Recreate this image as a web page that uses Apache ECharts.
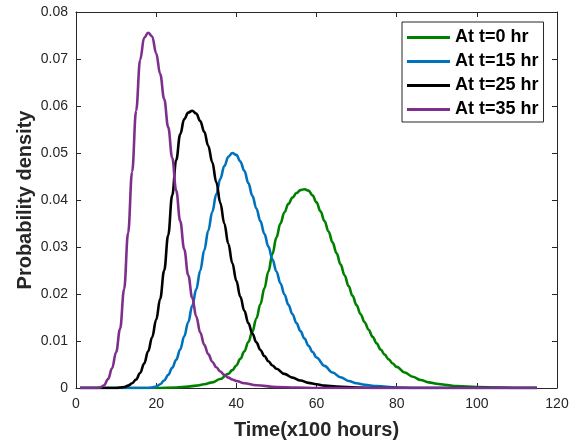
<!DOCTYPE html>
<html>
<head>
<meta charset="utf-8">
<script src="https://cdn.jsdelivr.net/npm/echarts@6/dist/echarts.min.js"></script>
<style>
  html, body { margin: 0; padding: 0; background: #fff; }
  #chart { width: 573px; height: 446px; }
</style>
</head>
<body>
<div id="chart"></div>
<script>
// Time axis in units of 100 hours
const xTicks = [0, 20, 40, 60, 80, 100, 120];
const yTicks = [0, 0.01, 0.02, 0.03, 0.04, 0.05, 0.06, 0.07, 0.08];

const seriesNames = ['At t=0 hr', 'At t=15 hr', 'At t=25 hr', 'At t=35 hr'];

// t = 0 hr
const time0 = [1, 20, 25, 28, 30, 32, 34, 36, 38, 39, 40, 41, 42, 43, 44, 45, 46, 47, 48, 49, 50,
  51, 52, 53, 54, 55, 56, 57, 58, 59, 60, 61, 62, 63, 64, 65, 66, 67, 68, 69, 70,
  71, 72, 73, 74, 75, 76, 77, 78, 79, 80, 82, 84, 86, 88, 90, 92, 95, 100, 105, 110, 115];
const pdf0 = [0, 0, 0.0001, 0.0003, 0.0005, 0.0008, 0.0012, 0.0019, 0.003, 0.0038, 0.0048, 0.0062, 0.0078, 0.0098, 0.012, 0.0148, 0.0178, 0.0212, 0.0248, 0.0285, 0.032,
  0.035, 0.0374, 0.0392, 0.0405, 0.0415, 0.0421, 0.0423, 0.042, 0.041, 0.0395, 0.0376, 0.0355, 0.0333, 0.031, 0.0287, 0.0263, 0.024, 0.0217, 0.0196, 0.0176,
  0.0157, 0.014, 0.0124, 0.0109, 0.0095, 0.0082, 0.0071, 0.0061, 0.0052, 0.0045, 0.0033, 0.0024, 0.0017, 0.0012, 0.0009, 0.0007, 0.0004, 0.0002, 0.0001, 0, 0];

// t = 15 hr
const time15 = [1, 15, 18, 19, 20, 21, 22, 23, 24, 25, 26, 27, 28, 29, 30, 31, 32, 33, 34, 35, 36, 37, 38, 39, 40,
  41, 42, 43, 44, 45, 46, 47, 48, 49, 50, 51, 52, 53, 54, 55, 56, 57, 58, 59, 60,
  62, 64, 66, 68, 70, 72, 75, 80, 85, 115];
const pdf15 = [0, 0, 0, 0.0001, 0.0003, 0.0008, 0.0016, 0.0028, 0.0043, 0.006, 0.0082, 0.011, 0.014, 0.0175, 0.021, 0.025, 0.0293, 0.0335, 0.0375, 0.0412, 0.0445, 0.0472, 0.0492, 0.05, 0.0496,
  0.0482, 0.0462, 0.0436, 0.0409, 0.0382, 0.0355, 0.0328, 0.0301, 0.0274, 0.0248, 0.0223, 0.0199, 0.0177, 0.0157, 0.0138, 0.0121, 0.0105, 0.009, 0.0077, 0.0065,
  0.0047, 0.0033, 0.0023, 0.0015, 0.001, 0.0007, 0.0004, 0.0001, 0, 0];

// t = 25 hr
const time25 = [1, 5, 10, 11, 12, 13, 14, 15, 16, 17, 18, 19, 20, 21, 22, 23, 24, 25, 26, 27, 28, 29, 30,
  31, 32, 33, 34, 35, 36, 37, 38, 39, 40, 41, 42, 43, 44, 45, 46, 47, 48, 49, 50,
  52, 54, 56, 58, 60, 62, 65, 70, 75, 115];
const pdf25 = [0, 0, 0, 0.0001, 0.0002, 0.0005, 0.001, 0.0018, 0.0032, 0.0052, 0.0078, 0.0108, 0.0145, 0.019, 0.025, 0.0325, 0.041, 0.0485, 0.054, 0.0572, 0.0586, 0.059, 0.0584,
  0.0568, 0.0545, 0.0515, 0.048, 0.0438, 0.0394, 0.035, 0.0307, 0.0266, 0.0228, 0.0194, 0.0164, 0.0138, 0.0116, 0.0097, 0.0081, 0.0068, 0.0057, 0.0048, 0.0041,
  0.003, 0.0022, 0.0016, 0.0011, 0.0008, 0.0005, 0.0003, 0.0001, 0, 0];

// t = 35 hr
const time35 = [1, 2, 3, 4, 5, 6, 7, 8, 9, 10, 11, 12, 13, 14, 15, 16, 17, 18, 19, 20,
  21, 22, 23, 24, 25, 26, 27, 28, 29, 30, 31, 32, 33, 34, 35, 36, 37, 38, 39, 40,
  42, 45, 50, 55, 60, 115];
const pdf35 = [0, 0, 0, 0, 0, 0.0001, 0.0006, 0.0019, 0.0042, 0.0076, 0.0126, 0.021, 0.033, 0.046, 0.059, 0.0698, 0.0745, 0.0756, 0.0748, 0.0712,
  0.0668, 0.0615, 0.0555, 0.049, 0.042, 0.0355, 0.0295, 0.024, 0.0192, 0.0152, 0.0118, 0.0092, 0.0072, 0.0056, 0.0044, 0.0035, 0.0028, 0.0022, 0.0018, 0.0015,
  0.001, 0.0006, 0.0002, 0.0001, 0, 0];

const colors = ['#008000', '#0072BD', '#000000', '#7E2F8E'];
const times = [time0, time15, time25, time35];
const pdfs = [pdf0, pdf15, pdf25, pdf35];

const FONT = 'Arial, "Liberation Sans", Helvetica, sans-serif';
const AXIS_COLOR = '#262626';

const pairs = (xs, ys) => xs.map((x, i) => [x, ys[i]]);

// Shared styling for the four sides of the plot box (ticks point inward)
const boxAxis = () => ({
  axisLine: { show: true, onZero: false, lineStyle: { color: AXIS_COLOR, width: 1 } },
  axisTick: { show: true, inside: true, length: 5, lineStyle: { color: AXIS_COLOR } },
  splitLine: { show: false }
});

const chart = echarts.init(document.getElementById('chart'), null, { renderer: 'canvas' });
chart.setOption({
  animation: false,
  backgroundColor: '#ffffff',
  grid: { left: 76, right: 16, top: 12, bottom: 58, containLabel: false },
  legend: {
    orient: 'vertical',
    left: 402,
    top: 22,
    data: seriesNames,
    icon: 'rect',
    itemWidth: 43,
    itemHeight: 3,
    itemGap: 5,
    padding: [6, 5, 3, 5],
    borderColor: '#262626',
    borderWidth: 1,
    borderRadius: 0,
    backgroundColor: '#ffffff',
    textStyle: { fontFamily: FONT, fontSize: 18, fontWeight: 'bold', color: '#000', lineHeight: 19 }
  },
  xAxis: [
    Object.assign({
      type: 'value',
      position: 'bottom',
      min: xTicks[0],
      max: xTicks[xTicks.length - 1],
      interval: xTicks[1] - xTicks[0],
      name: 'Time(x100 hours)',
      nameLocation: 'middle',
      nameGap: 32,
      nameTextStyle: { fontFamily: FONT, fontSize: 20, fontWeight: 'bold', color: AXIS_COLOR },
      axisLabel: { fontFamily: FONT, fontSize: 14, color: AXIS_COLOR, margin: 9 }
    }, boxAxis()),
    Object.assign({
      type: 'value',
      position: 'top',
      min: xTicks[0],
      max: xTicks[xTicks.length - 1],
      interval: xTicks[1] - xTicks[0],
      axisLabel: { show: false }
    }, boxAxis())
  ],
  yAxis: [
    Object.assign({
      type: 'value',
      position: 'left',
      min: yTicks[0],
      max: yTicks[yTicks.length - 1],
      interval: 0.01,
      name: 'Probability density',
      nameLocation: 'middle',
      nameGap: 41,
      nameMoveOverlap: false,
      nameTextStyle: { fontFamily: FONT, fontSize: 20, fontWeight: 'bold', color: AXIS_COLOR },
      axisLabel: {
        fontFamily: FONT, fontSize: 14, color: AXIS_COLOR, margin: 8,
        formatter: v => (v === 0 ? '0' : v.toFixed(2))
      }
    }, boxAxis()),
    Object.assign({
      type: 'value',
      position: 'right',
      min: yTicks[0],
      max: yTicks[yTicks.length - 1],
      interval: 0.01,
      axisLabel: { show: false }
    }, boxAxis())
  ],
  series: seriesNames.map((name, i) => ({
    name,
    type: 'line',
    xAxisIndex: 0,
    yAxisIndex: 0,
    data: pairs(times[i], pdfs[i]),
    showSymbol: false,
    symbol: 'none',
    smooth: 0.4,
    smoothMonotone: 'x',
    color: colors[i],
    lineStyle: { color: colors[i], width: 2.6 },
    z: 2 + i
  }))
});
</script>
</body>
</html>
